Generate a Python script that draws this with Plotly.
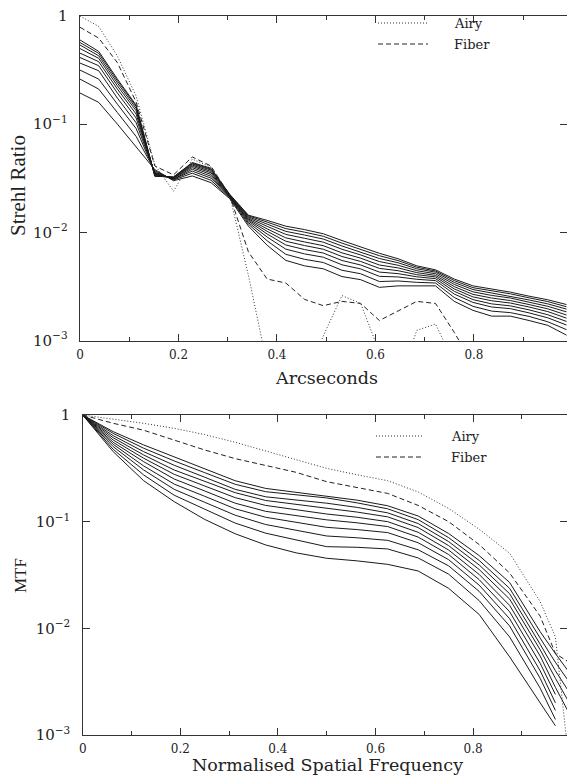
import plotly.graph_objects as go

# ---------------- data: top panel (Strehl ratio vs arcseconds) ----------------
arcsec = [0.000, 0.038, 0.076, 0.114, 0.152, 0.190, 0.228, 0.266, 0.304, 0.342,
          0.380, 0.418, 0.456, 0.494, 0.532, 0.570, 0.608, 0.646, 0.684, 0.722,
          0.760, 0.798, 0.836, 0.874, 0.912, 0.950, 0.988]

strehl_airy = [1.0, 0.80, 0.426, 0.182, 0.042, 0.024, 0.0475, 0.040, 0.022, 0.0040,
               0.0006, 0.0002, 0.0004, 0.0011, 0.0026, 0.0022, 0.00078, 0.0004, 0.00124, 0.00142,
               0.00062, 0.0003, 0.0003, 0.0003, 0.0003, 0.0003, 0.0003]

strehl_fiber = [0.786, 0.625, 0.37, 0.16, 0.041, 0.034, 0.0498, 0.041, 0.022, 0.0066,
                0.0037, 0.0034, 0.0024, 0.0021, 0.0023, 0.0022, 0.00153, 0.00186, 0.0023, 0.0022,
                0.00119, 0.0006, 0.0003, 0.0003, 0.0003, 0.0003, 0.0003]

# ten seeing curves, one row per arcsec sample (columns = curves)
strehl_rows = [
    [0.600, 0.568, 0.539, 0.500, 0.454, 0.413, 0.367, 0.316, 0.261, 0.194],
    [0.471, 0.452, 0.429, 0.406, 0.378, 0.347, 0.312, 0.261, 0.211, 0.159],
    [0.261, 0.252, 0.240, 0.226, 0.211, 0.194, 0.174, 0.153, 0.128, 0.100],
    [0.150, 0.146, 0.140, 0.133, 0.124, 0.114, 0.103, 0.091, 0.077, 0.062],
    [0.033, 0.033, 0.0335, 0.034, 0.0345, 0.035, 0.0355, 0.036, 0.037, 0.038],
    [0.0325, 0.0325, 0.032, 0.032, 0.0318, 0.0315, 0.031, 0.031, 0.0305, 0.030],
    [0.0442, 0.0435, 0.0428, 0.0418, 0.0408, 0.0396, 0.0383, 0.0368, 0.0352, 0.0332],
    [0.0391, 0.0384, 0.0376, 0.0366, 0.0355, 0.0343, 0.0330, 0.0317, 0.0303, 0.0288],
    [0.0225, 0.0223, 0.0221, 0.0219, 0.0217, 0.0215, 0.0213, 0.0211, 0.0208, 0.0205],
    [0.0144, 0.0142, 0.0139, 0.0136, 0.0133, 0.0130, 0.0127, 0.0123, 0.0119, 0.0114],
    [0.0129, 0.01244, 0.01192, 0.01136, 0.01077, 0.01022, 0.00965, 0.00905, 0.00836, 0.0076],
    [0.0114, 0.01083, 0.01021, 0.00957, 0.00889, 0.00827, 0.00764, 0.00699, 0.00626, 0.0055],
    [0.0106, 0.01004, 0.00944, 0.00881, 0.00815, 0.00755, 0.00693, 0.00632, 0.00563, 0.0049],
    [0.0097, 0.0092, 0.00867, 0.00811, 0.00753, 0.00698, 0.00644, 0.00589, 0.00526, 0.0046],
    [0.0084, 0.00795, 0.00748, 0.00698, 0.00646, 0.00598, 0.00549, 0.00501, 0.00446, 0.0039],
    [0.0073, 0.00696, 0.00658, 0.00618, 0.00577, 0.00538, 0.00499, 0.00459, 0.00414, 0.00365],
    [0.0064, 0.00608, 0.00573, 0.00537, 0.00499, 0.00464, 0.00429, 0.00392, 0.00351, 0.0031],
    [0.0057, 0.00548, 0.00523, 0.00496, 0.00469, 0.00442, 0.00415, 0.00387, 0.00355, 0.0032],
    [0.0049, 0.00476, 0.0046, 0.00442, 0.00424, 0.00406, 0.00388, 0.00368, 0.00345, 0.0032],
    [0.0045, 0.00439, 0.00428, 0.00414, 0.0040, 0.00387, 0.00373, 0.00358, 0.0034, 0.0032],
    [0.0037, 0.00358, 0.00344, 0.0033, 0.00315, 0.0030, 0.00285, 0.00269, 0.0025, 0.0023],
    [0.0032, 0.00308, 0.00296, 0.00282, 0.00267, 0.00253, 0.00239, 0.00225, 0.00207, 0.0019],
    [0.0030, 0.00288, 0.00275, 0.00261, 0.00247, 0.00233, 0.00218, 0.00204, 0.00187, 0.00168],
    [0.0028, 0.0027, 0.00259, 0.00247, 0.00234, 0.00222, 0.00209, 0.00197, 0.00181, 0.00168],
    [0.00257, 0.00248, 0.00237, 0.00226, 0.00215, 0.00204, 0.00192, 0.0018, 0.00167, 0.00153],
    [0.00238, 0.00229, 0.00218, 0.00207, 0.00196, 0.00185, 0.00173, 0.00162, 0.00149, 0.00138],
    [0.00215, 0.00205, 0.00195, 0.00184, 0.00172, 0.00161, 0.0015, 0.00139, 0.00126, 0.00112],
]

# ---------------- data: bottom panel (MTF vs normalised spatial frequency) ----------------
freq = [0.0, 0.0625, 0.125, 0.1875, 0.25, 0.3125, 0.375, 0.4375, 0.5, 0.5625,
        0.625, 0.6875, 0.75, 0.8125, 0.875, 0.9375, 0.96875, 1.0]

mtf_airy = [1.0, 0.92, 0.835, 0.75, 0.655, 0.555, 0.46, 0.38, 0.316, 0.275,
            0.242, 0.19, 0.133, 0.085, 0.0506, 0.0178, 0.0083, 0.0004]

mtf_fiber = [1.0, 0.836, 0.72, 0.58, 0.47, 0.39, 0.335, 0.29, 0.237, 0.21,
             0.184, 0.142, 0.10, 0.061, 0.033, 0.013, 0.0058, 0.0047]

mtf_rows = [
    [1.0, 1.0, 1.0, 1.0, 1.0, 1.0, 1.0, 1.0, 1.0, 1.0],
    [0.698, 0.673, 0.640, 0.612, 0.583, 0.555, 0.531, 0.505, 0.477, 0.453],
    [0.524, 0.488, 0.453, 0.422, 0.393, 0.365, 0.333, 0.305, 0.274, 0.242],
    [0.407, 0.371, 0.338, 0.305, 0.278, 0.251, 0.225, 0.201, 0.177, 0.154],
    [0.314, 0.288, 0.261, 0.239, 0.216, 0.194, 0.173, 0.152, 0.131, 0.105],
    [0.242, 0.224, 0.201, 0.187, 0.168, 0.149, 0.132, 0.115, 0.097, 0.077],
    [0.205, 0.191, 0.171, 0.158, 0.142, 0.125, 0.110, 0.094, 0.078, 0.0605],
    [0.189, 0.179, 0.160, 0.145, 0.129, 0.114, 0.098, 0.083, 0.067, 0.051],
    [0.174, 0.167, 0.149, 0.132, 0.118, 0.104, 0.0885, 0.0734, 0.0583, 0.0454],
    [0.159, 0.150, 0.136, 0.123, 0.110, 0.0975, 0.0843, 0.0706, 0.0575, 0.0429],
    [0.141, 0.132, 0.121, 0.111, 0.100, 0.090, 0.079, 0.0668, 0.0555, 0.0398],
    [0.113, 0.1045, 0.096, 0.088, 0.0795, 0.0717, 0.0634, 0.0545, 0.0457, 0.0345],
    [0.0774, 0.0708, 0.065, 0.0596, 0.0542, 0.0492, 0.044, 0.0385, 0.0322, 0.0237],
    [0.0481, 0.0433, 0.0393, 0.0356, 0.032, 0.0286, 0.0254, 0.0222, 0.0182, 0.0135],
    [0.0269, 0.0237, 0.0211, 0.0188, 0.0164, 0.0143, 0.0123, 0.0105, 0.0083, 0.0054],
    [0.0093, 0.0081, 0.0071, 0.0063, 0.0055, 0.0047, 0.004, 0.0034, 0.00275, 0.002],
    [0.0058, 0.0048, 0.0040, 0.0034, 0.0028, 0.0024, 0.0020, 0.0017, 0.0014, 0.00122],
    [0.0037, 0.0030, 0.0024, 0.0019, 0.0015, None, None, None, None, None],
]

x_tick_vals = [0, 0.2, 0.4, 0.6, 0.8]
x_tick_text = ["0", "0.2", "0.4", "0.6", "0.8"]

top_xtitle = "Arcseconds"
top_ytitle = "Strehl Ratio"
bot_xtitle = "Normalised Spatial Frequency"
bot_ytitle = "MTF"
legend_names = ["Airy", "Fiber"]

# ---------------- figure ----------------
W, H = 567, 778
INK = "#1a1a1a"
DOT = "1px,2px"
DASH = "5px,3px"

strehl_curves = [list(c) for c in zip(*strehl_rows)]
mtf_curves = [list(c) for c in zip(*mtf_rows)]

fig = go.Figure()

for ys in strehl_curves:
    fig.add_trace(go.Scatter(x=arcsec, y=ys, mode="lines", line=dict(color=INK, width=1),
                             showlegend=False, xaxis="x", yaxis="y", hoverinfo="skip"))
fig.add_trace(go.Scatter(x=arcsec, y=strehl_airy, mode="lines", name=legend_names[0],
                         line=dict(color="#333", width=1, dash=DOT), showlegend=False,
                         xaxis="x", yaxis="y"))
fig.add_trace(go.Scatter(x=arcsec, y=strehl_fiber, mode="lines", name=legend_names[1],
                         line=dict(color="#222", width=1, dash=DASH), showlegend=False,
                         xaxis="x", yaxis="y"))

for ys in mtf_curves:
    fig.add_trace(go.Scatter(x=freq, y=ys, mode="lines", line=dict(color=INK, width=1),
                             showlegend=False, xaxis="x2", yaxis="y2", hoverinfo="skip"))
fig.add_trace(go.Scatter(x=freq, y=mtf_airy, mode="lines", name=legend_names[0],
                         line=dict(color="#333", width=1, dash=DOT), showlegend=False,
                         xaxis="x2", yaxis="y2"))
fig.add_trace(go.Scatter(x=freq, y=mtf_fiber, mode="lines", name=legend_names[1],
                         line=dict(color="#222", width=1, dash=DASH), showlegend=False,
                         xaxis="x2", yaxis="y2"))


def px(v):
    return v / W


def py(v):
    return 1 - v / H


tickfont = dict(family="DejaVu Serif", size=12, color="#222")
axis_common = dict(showline=True, linecolor="#333", linewidth=1, mirror="ticks",
                   ticks="inside", tickcolor="#333", tickwidth=1, ticklen=7,
                   showgrid=False, zeroline=False, tickfont=tickfont, automargin=False)

xcommon = dict(axis_common, tickmode="array", tickvals=x_tick_vals, ticktext=x_tick_text,
               minor=dict(dtick=0.1, tick0=0, ticks="inside", ticklen=4, tickcolor="#333",
                          showgrid=False),
               ticklabelstandoff=3)
ycommon = dict(axis_common, type="log", range=[-3, 0], dtick=1, exponentformat="power",
               ticklabelstandoff=9)

fig.update_layout(
    width=W, height=H,
    margin=dict(l=0, r=0, t=0, b=0),
    paper_bgcolor="white", plot_bgcolor="white",
    xaxis=dict(xcommon, domain=[px(80), 1.0], range=[0, 0.989], anchor="y"),
    yaxis=dict(ycommon, domain=[py(340.5), py(16)], anchor="x"),
    xaxis2=dict(xcommon, domain=[px(82.7), 1.0], range=[0, 0.9925], anchor="y2"),
    yaxis2=dict(ycommon, domain=[py(735), py(415)], anchor="x2"),
    showlegend=False,
)

title_font = dict(family="DejaVu Serif", size=17.5, color="#222")
ytitle_font = dict(family="Liberation Serif", size=21, color="#222")
leg_font = dict(family="DejaVu Serif", size=13, color="#222")

annotations = [
    dict(text=top_xtitle, x=px(326), y=py(378), xref="paper", yref="paper",
         showarrow=False, font=title_font, xanchor="center", yanchor="middle"),
    dict(text=bot_xtitle, x=px(327), y=py(765), xref="paper", yref="paper",
         showarrow=False, font=title_font, xanchor="center", yanchor="middle"),
    dict(text=top_ytitle, x=px(18), y=py(186), xref="paper", yref="paper", textangle=-90,
         showarrow=False, font=ytitle_font, xanchor="center", yanchor="middle"),
    dict(text=bot_ytitle, x=px(20), y=py(576), xref="paper", yref="paper", textangle=-90,
         showarrow=False, font=dict(ytitle_font, size=17), xanchor="center", yanchor="middle"),
]
shapes = []
# legends (top panel, bottom panel)
for (lx0, lx1, tx, y1, y2) in [(378, 428, 452, 23, 44), (376, 424, 449, 436, 457)]:
    shapes.append(dict(type="line", xref="paper", yref="paper", x0=px(lx0), x1=px(lx1),
                       y0=py(y1), y1=py(y1), line=dict(color="#333", width=1, dash=DOT)))
    shapes.append(dict(type="line", xref="paper", yref="paper", x0=px(lx0), x1=px(lx1),
                       y0=py(y2), y1=py(y2), line=dict(color="#222", width=1, dash=DASH)))
    annotations.append(dict(text=legend_names[0], x=px(tx), y=py(y1), xref="paper", yref="paper",
                            showarrow=False, font=leg_font, xanchor="left", yanchor="middle"))
    annotations.append(dict(text=legend_names[1], x=px(tx), y=py(y2), xref="paper", yref="paper",
                            showarrow=False, font=leg_font, xanchor="left", yanchor="middle"))

fig.update_layout(annotations=annotations, shapes=shapes)

fig.write_html("out.html")
